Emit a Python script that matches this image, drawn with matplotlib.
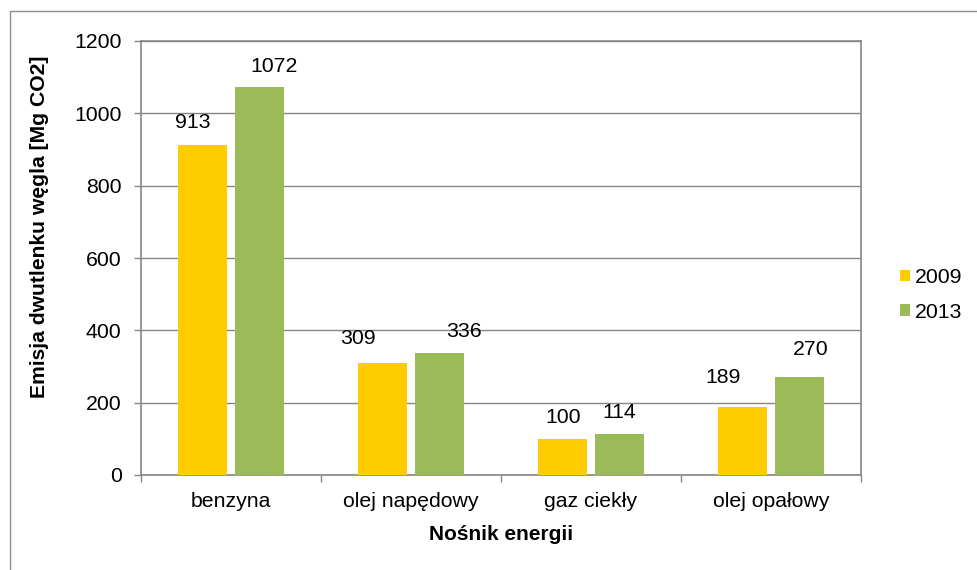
import numpy as np
import matplotlib.pyplot as plt
from matplotlib.patches import Rectangle

plt.rcParams['font.family'] = ['Liberation Sans', 'DejaVu Sans']

categories = ['benzyna', 'olej napędowy', 'gaz ciekły', 'olej opałowy']
years = ['2009', '2013']
em_2009 = [913, 309, 100, 189]
em_2013 = [1072, 336, 114, 270]
yticks = [0, 200, 400, 600, 800, 1000, 1200]

# label shifts (pixels) as placed in the original
lab_dx_2009 = [-10, -25, 0, -20]
lab_dy_2009 = [17, 19, 16, 24]
lab_dx_2013 = [15, 25, 0, 11]
lab_dy_2013 = [15, 16, 16, 22]

grey = '#868686'
c2009 = '#FFCC00'
c2013 = '#9BBB59'
fs = 15.3

fig = plt.figure(figsize=(9.78, 5.70), dpi=100)
ax = fig.add_axes([141/978, 1 - 475/570, 720/978, 434/570])

x = np.arange(len(categories))
w = 0.27
off = 0.157
b1 = ax.bar(x - off, em_2009, w, color=c2009, label=years[0], zorder=3)
b2 = ax.bar(x + off, em_2013, w, color=c2013, label=years[1], zorder=3)

for bars, vals, dxs, dys in [(b1, em_2009, lab_dx_2009, lab_dy_2009),
                             (b2, em_2013, lab_dx_2013, lab_dy_2013)]:
    for r, v, dx, dy in zip(bars, vals, dxs, dys):
        ax.annotate(str(v), (r.get_x() + r.get_width() / 2, v),
                    xytext=(dx, dy), textcoords='offset pixels',
                    ha='center', va='baseline', fontsize=fs)

ax.set_xlim(-0.5, 3.5)
ax.set_ylim(0, 1200)
ax.set_yticks(yticks)
ax.set_yticklabels([str(t) for t in yticks])
ax.set_xticks(np.arange(-0.5, 4, 1))
ax.set_xticklabels([])
ax.set_xticks(x, minor=True)
ax.set_xticklabels(categories, minor=True)
ax.tick_params(axis='x', which='major', length=5, width=1, color=grey, direction='out')
ax.tick_params(axis='x', which='minor', length=0, pad=12, labelsize=fs)
ax.tick_params(axis='y', length=5, width=1, color=grey, pad=9, labelsize=fs)

ax.grid(axis='y', color=grey, linewidth=1.0, zorder=0)
for s in ax.spines.values():
    s.set_color(grey)
    s.set_linewidth(1.2)

ax.set_xlabel('Nośnik energii', fontsize=15, fontweight='bold', labelpad=10)
fig.text(40/978, 1 - 227/570, 'Emisja dwutlenku węgla [Mg CO2]', rotation=90,
         fontsize=15.2, fontweight='bold', ha='center', va='center')

ax.legend(loc='center left', bbox_to_anchor=(900/978, 1 - 295/570),
          bbox_transform=fig.transFigure, frameon=False, fontsize=fs,
          handlelength=0.45, handleheight=0.45, handletextpad=0.25,
          labelspacing=0.72, borderaxespad=0, borderpad=0)

fig.patches.append(Rectangle((9.5/978, -0.1), 1.2, 1.1 - 11.5/570,
                             transform=fig.transFigure, fill=False,
                             edgecolor='#8c8c8c', linewidth=1.0))

fig.savefig('out.png', dpi=100)
